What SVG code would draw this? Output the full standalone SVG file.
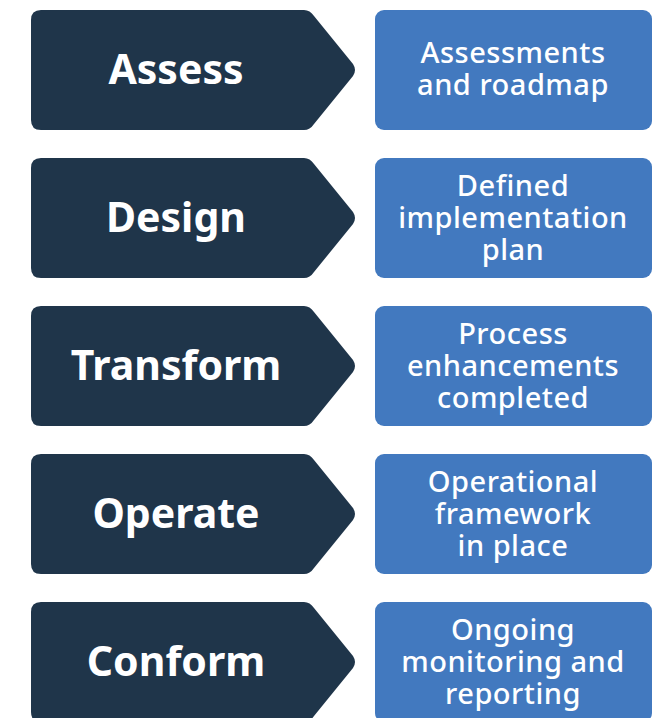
<svg xmlns="http://www.w3.org/2000/svg" width="656" height="718" viewBox="0 0 656 718">
<defs>
<style>
.chev{fill:#1f354a}
.box{fill:#4279bf}
.t1{font-family:"Noto Sans","Open Sans",sans-serif;font-weight:700;font-size:41px;fill:#ffffff;text-anchor:middle}
.t2{font-family:"Noto Sans","Open Sans",sans-serif;font-weight:500;font-size:29px;letter-spacing:0.5px;fill:#ffffff;text-anchor:middle}
</style>
<path id="chevShape" d="M41,0 H304 Q310,0 314,6 L353,54 Q357,60 353,66 L314,114 Q310,120 304,120 H41 Q31,120 31,110 V10 Q31,0 41,0 Z"/>
</defs>
<rect width="656" height="718" fill="#ffffff"/>
<g id="row-assess" transform="translate(0,10)">
<g id="node-assess"><use href="#chevShape" class="chev"/><text class="t1" x="176" y="74">Assess</text></g>
<g id="node-assessments"><rect class="box" x="375" y="0" width="277" height="120" rx="9"/><text class="t2" x="513" y="53">Assessments</text><text class="t2" x="513" y="85">and roadmap</text></g>
</g>
<g id="row-design" transform="translate(0,158)">
<g id="node-design"><use href="#chevShape" class="chev"/><text class="t1" x="176" y="74">Design</text></g>
<g id="node-defined"><rect class="box" x="375" y="0" width="277" height="120" rx="9"/><text class="t2" x="513" y="38">Defined</text><text class="t2" x="513" y="70">implementation</text><text class="t2" x="513" y="102">plan</text></g>
</g>
<g id="row-transform" transform="translate(0,306)">
<g id="node-transform"><use href="#chevShape" class="chev"/><text class="t1" x="176" y="74">Transform</text></g>
<g id="node-process"><rect class="box" x="375" y="0" width="277" height="120" rx="9"/><text class="t2" x="513" y="38">Process</text><text class="t2" x="513" y="70">enhancements</text><text class="t2" x="513" y="102">completed</text></g>
</g>
<g id="row-operate" transform="translate(0,454)">
<g id="node-operate"><use href="#chevShape" class="chev"/><text class="t1" x="176" y="74">Operate</text></g>
<g id="node-operational"><rect class="box" x="375" y="0" width="277" height="120" rx="9"/><text class="t2" x="513" y="38">Operational</text><text class="t2" x="513" y="70">framework</text><text class="t2" x="513" y="102">in place</text></g>
</g>
<g id="row-conform" transform="translate(0,602)">
<g id="node-conform"><use href="#chevShape" class="chev"/><text class="t1" x="176" y="74">Conform</text></g>
<g id="node-ongoing"><rect class="box" x="375" y="0" width="277" height="120" rx="9"/><text class="t2" x="513" y="38">Ongoing</text><text class="t2" x="513" y="70">monitoring and</text><text class="t2" x="513" y="102">reporting</text></g>
</g>
<g id="connectors"></g>
</svg>
